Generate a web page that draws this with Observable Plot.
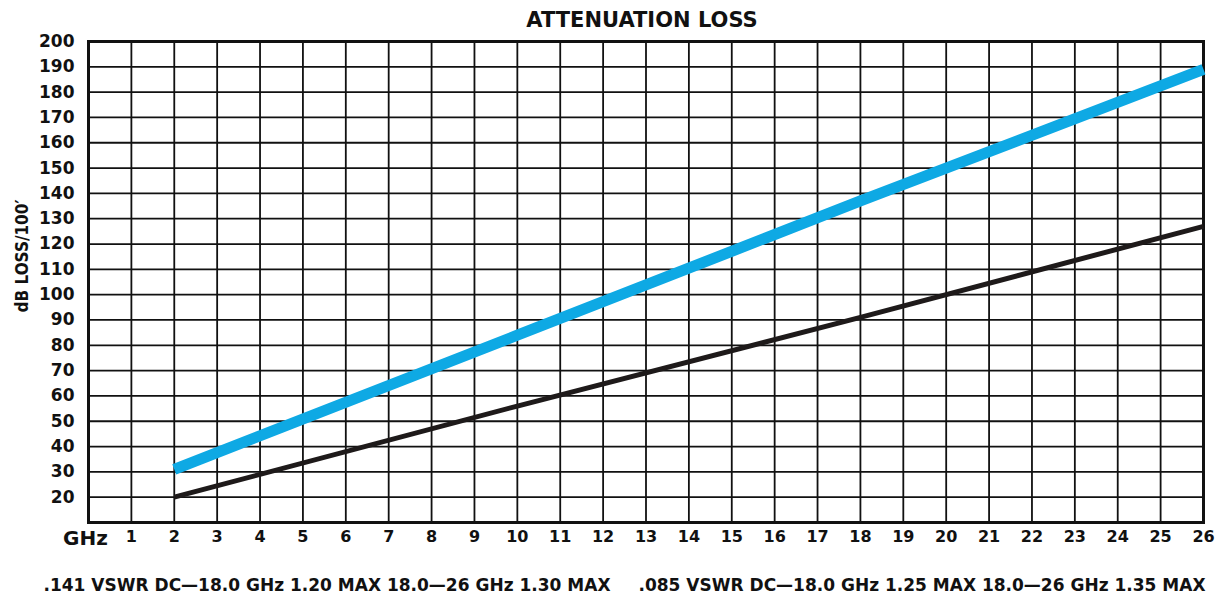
<!DOCTYPE html>
<html>
<head>
<meta charset="utf-8">
<script src="https://cdn.jsdelivr.net/npm/d3@7"></script>
<script src="https://cdn.jsdelivr.net/npm/@observablehq/plot@0.6"></script>
<style>
  html, body { margin: 0; padding: 0; background: #fff; }
  svg { display: block; }
</style>
</head>
<body>
<div id="chart"></div>
<script>
// Data
const title = "ATTENUATION LOSS";
const yLabel = "dB LOSS/100\u2032";
const xUnit = "GHz";
const captionLeft = ".141 VSWR DC\u201418.0 GHz 1.20 MAX 18.0\u201426 GHz 1.30 MAX";
const captionRight = ".085 VSWR DC\u201418.0 GHz 1.25 MAX 18.0\u201426 GHz 1.35 MAX";
const xTicks = d3.range(1, 27);
const yTicks = d3.range(20, 201, 10);
const freq = [2, 10, 18, 26];
const lossBlue = [31, 84, 137, 189];   // .085 cable
const lossBlack = [20, 56, 91, 127];   // .141 cable

const blueData = freq.map((f, i) => ({f, v: lossBlue[i]}));
const blackData = freq.map((f, i) => ({f, v: lossBlack[i]}));

const font = "'DejaVu Sans', 'Open Sans', sans-serif";

const chart = Plot.plot({
  width: 1217,
  height: 597,
  marginLeft: 88,
  marginRight: 14,
  marginTop: 41,
  marginBottom: 75,
  style: {fontFamily: font, fontWeight: "bold", color: "#111", background: "#fff"},
  x: {domain: [0, 26]},
  y: {domain: [10, 200]},
  marks: [
    Plot.gridX(xTicks, {stroke: "#111", strokeOpacity: 1, strokeWidth: 1.8}),
    Plot.gridY(yTicks, {stroke: "#111", strokeOpacity: 1, strokeWidth: 1.8}),
    Plot.frame({stroke: "#111", strokeWidth: 3}),
    Plot.line(blackData, {x: "f", y: "v", stroke: "#1e1a1a", strokeWidth: 5, strokeLinecap: "butt"}),
    Plot.line(blueData, {x: "f", y: "v", stroke: "#0ea9e4", strokeWidth: 11, strokeLinecap: "butt"}),
    Plot.axisY(yTicks, {tickSize: 0, tickPadding: 14, fontSize: 17, fontWeight: "bold", label: null}),
    Plot.axisX(xTicks, {tickSize: 0, tickPadding: 8, fontSize: 16, fontWeight: "bold", label: null}),
    Plot.text([xUnit], {x: 0, frameAnchor: "bottom", dy: 16, dx: -3, fontSize: 20, fontWeight: "bold", textAnchor: "middle", lineAnchor: "middle"}),
    Plot.text([yLabel], {frameAnchor: "left", dx: -66, dy: -26, rotate: -90, fontSize: 17, fontWeight: "bold", textAnchor: "middle", lineAnchor: "middle", fontFamily: "'DejaVu Sans Condensed', 'DejaVu Sans', sans-serif"}),
    Plot.text([title], {frameAnchor: "top", dx: -4, dy: -21, fontSize: 21, fontWeight: "bold", lineAnchor: "middle"}),
    Plot.text([captionLeft], {frameAnchor: "bottom-left", dx: -45, dy: 63, fontSize: 17, fontWeight: "bold", textAnchor: "start", lineAnchor: "middle"}),
    Plot.text([captionRight], {frameAnchor: "bottom-right", dx: 2, dy: 63, fontSize: 17, fontWeight: "bold", textAnchor: "end", lineAnchor: "middle"})
  ]
});
document.getElementById("chart").appendChild(chart);
</script>
</body>
</html>
